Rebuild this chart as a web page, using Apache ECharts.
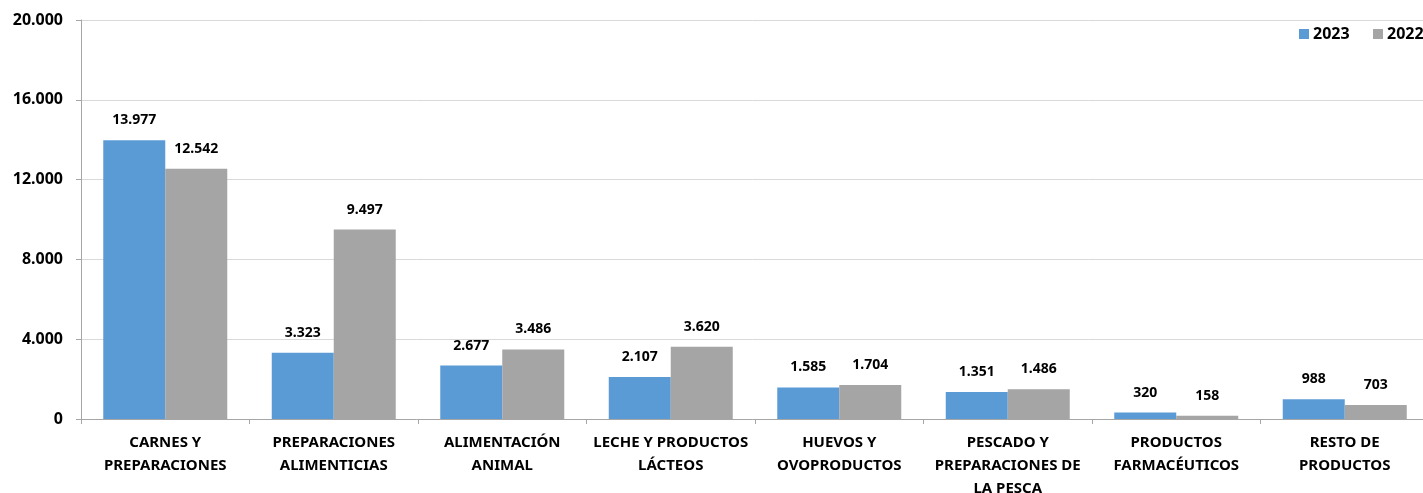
<!DOCTYPE html>
<html>
<head>
<meta charset="utf-8">
<script src="https://cdn.jsdelivr.net/npm/echarts@6/dist/echarts.min.js"></script>
<style>html,body{margin:0;padding:0;background:#fff;overflow:hidden;}#c{width:1423px;height:493px;}</style>
</head>
<body>
<div id="c"></div>
<script>
const categories = ['CARNES Y\nPREPARACIONES', 'PREPARACIONES\nALIMENTICIAS', 'ALIMENTACIÓN\nANIMAL', 'LECHE Y PRODUCTOS\nLÁCTEOS', 'HUEVOS Y\nOVOPRODUCTOS', 'PESCADO Y\nPREPARACIONES DE\nLA PESCA', 'PRODUCTOS\nFARMACÉUTICOS', 'RESTO DE\nPRODUCTOS'];
const values2023 = [13977, 3323, 2677, 2107, 1585, 1351, 320, 988];
const values2022 = [12542, 9497, 3486, 3620, 1704, 1486, 158, 703];
const seriesNames = ['2023', '2022'];

const FONT = '"Noto Sans", sans-serif';
function fmt(v) { return String(v).replace(/\B(?=(\d{3})+(?!\d))/g, '.'); }

const chart = echarts.init(document.getElementById('c'), null, {renderer: 'canvas'});
const labelCfg = {
  show: true, position: 'top', distance: 13,
  fontFamily: FONT, fontWeight: 'bold', fontSize: 14, color: '#000',
  formatter: p => fmt(p.value)
};
const legendBase = {
  top: 26, itemWidth: 10, itemHeight: 10, icon: 'rect', padding: 0,
  textStyle: {fontFamily: FONT, fontWeight: 'bold', fontSize: 16, color: '#000', padding: [0,0,0,-1]}
};
chart.setOption({
  animation: false,
  textStyle: {fontFamily: FONT},
  legend: [
    Object.assign({}, legendBase, {left: 1299, data: [seriesNames[0]]}),
    Object.assign({}, legendBase, {left: 1373, data: [seriesNames[1]]})
  ],
  grid: {left: 81, top: 20, bottom: 74, width: 1348, containLabel: false, outerBoundsMode: 'none'},
  xAxis: {
    type: 'category', data: categories,
    axisLine: {lineStyle: {color: '#A6A6A6'}},
    axisTick: {show: true, length: 5, lineStyle: {color: '#A6A6A6'}},
    axisLabel: {interval: 0, fontFamily: FONT, fontWeight: 'bold', fontSize: 15, color: '#000', lineHeight: 23, margin: 12}
  },
  yAxis: {
    type: 'value', min: 0, max: 20000, interval: 4000,
    axisLine: {show: true, lineStyle: {color: '#A6A6A6'}},
    axisTick: {show: true, length: 5, lineStyle: {color: '#A6A6A6'}},
    splitLine: {lineStyle: {color: '#D9D9D9'}},
    axisLabel: {fontFamily: FONT, fontWeight: 'bold', fontSize: 16, color: '#000', margin: 18, formatter: v => fmt(v)}
  },
  series: [
    {name: seriesNames[0], type: 'bar', data: values2023, barWidth: 62, barGap: '0%', itemStyle: {color: '#5B9BD5'}, label: labelCfg},
    {name: seriesNames[1], type: 'bar', data: values2022, barWidth: 62, barGap: '0%', itemStyle: {color: '#A5A5A5'}, label: labelCfg}
  ]
});
</script>
</body>
</html>
